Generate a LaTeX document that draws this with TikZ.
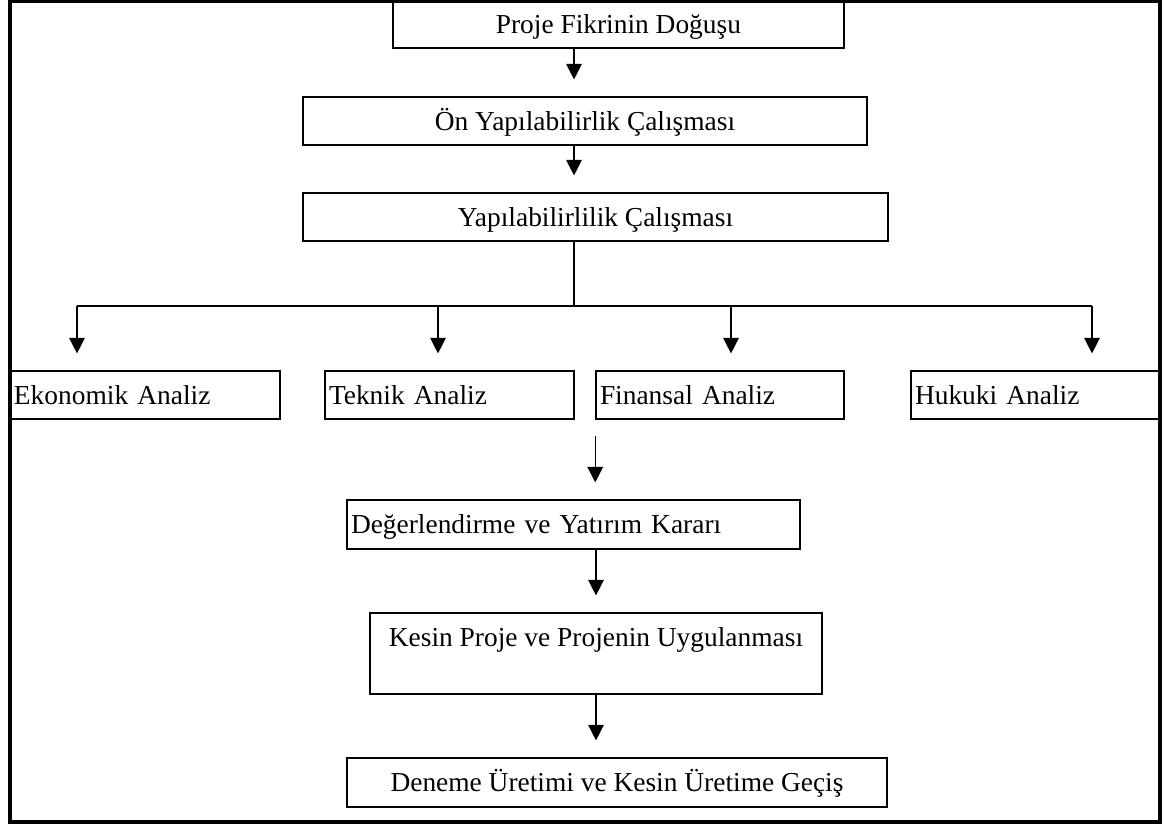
\documentclass[tikz,border=0pt]{standalone}
\usepackage{fontspec}
\setmainfont{Liberation Serif}
\usetikzlibrary{arrows.meta}

\begin{document}
\begin{tikzpicture}[
	box/.style={draw,line width=1.1pt,inner xsep=0.1cm,inner ysep=0pt,font=\fontsize{19.5}{23}\selectfont},
	tline/.style={text height=14pt,text depth=0.6pt},
	cbox/.style={box,align=center,minimum height=1.2cm},
	lbox/.style={box,tline,align=left,minimum height=1.2cm},
	conn/.style={draw,line width=0.9pt},
	arr/.style={conn,-{Triangle[width=11pt,length=11pt]},shorten >=0.42cm},
	frame/.style={draw,line width=3.2pt}
	]
	\useasboundingbox (0,0) rectangle (29.125,20.6);
	\draw[frame] (0.25,0.05) rectangle (29.0,20.58);
	% main column
	\node[cbox,tline,minimum width=11.275cm,minimum height=1.175cm] (fikir) at (15.46,19.99) {Proje Fikrinin Doğuşu};
	\node[cbox,tline,minimum width=14.1cm] (onyap) at (14.625,17.575) {Ön Yapılabilirlik Çalışması};
	\node[cbox,tline,minimum width=14.625cm] (yapil) at (14.8875,15.175) {Yapılabilirlilik Çalışması};
	\coordinate (spine) at (14.35,12.95);
	\draw[arr] (fikir.south -| spine) -- (onyap.north -| spine);
	\draw[arr] (onyap.south -| spine) -- (yapil.north -| spine);
	% analyses
	\node[lbox,text width=6.55cm] (ekon) at (3.625,10.725) {Ekonomik Analiz};
	\node[lbox,text width=6.025cm] (tekn) at (11.2375,10.725) {Teknik Analiz};
	\node[lbox,text width=6.0cm] (finans) at (18.0,10.725) {Finansal Analiz};
	\node[lbox,text width=6.025cm] (hukuk) at (25.8875,10.725) {Hukuki Analiz};
	\foreach \n/\x in {ekon/1.925,tekn/10.95,finans/18.275,hukuk/27.3}
		\coordinate (d\n) at (\x,12.95);
	\draw[conn] (yapil.south -| spine) -- (spine);
	\draw[conn] (dekon) -- (dhukuk);
	\foreach \n in {ekon,tekn,finans,hukuk}
		\draw[arr] (d\n) -- (d\n |- \n.north);
	% decision and after
	\node[lbox,text width=11.125cm,minimum height=1.225cm] (deger) at (14.3375,7.4875) {Değerlendirme ve Yatırım Kararı};
	\node[cbox,minimum width=11.3cm,minimum height=2.025cm] (kesin) at (14.9,4.2625) {Kesin Proje ve Projenin Uygulanması\\ \mbox{}};
	\node[cbox,tline,minimum width=13.5cm,minimum height=1.225cm] (deneme) at (15.425,1.0375) {Deneme Üretimi ve Kesin Üretime Geçiş};
	\draw[arr,shorten <=0.4cm] (finans.south west) -- (deger.north -| finans.south west);
	\draw[arr] (deger.south -| kesin.north) -- (kesin.north);
	\draw[arr] (kesin.south) -- (kesin.south |- deneme.north);
\end{tikzpicture}
\end{document}
